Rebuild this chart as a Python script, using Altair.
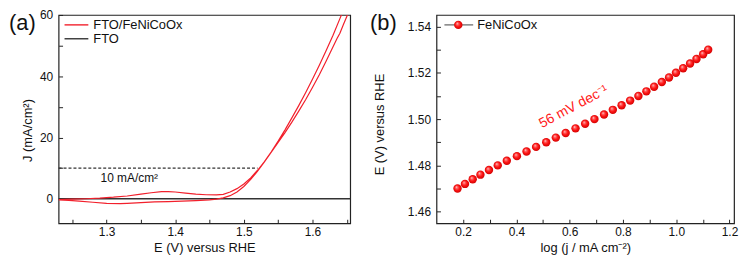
import altair as alt
import pandas as pd

FONT = "Liberation Sans"

# ---------------- panel (a): cyclic voltammogram ----------------
cv_fwd_E = [1.230, 1.250, 1.270, 1.290, 1.310, 1.330, 1.350, 1.365, 1.380, 1.390,
            1.400, 1.415, 1.430, 1.445, 1.460, 1.470, 1.480, 1.490, 1.500, 1.510,
            1.520, 1.530, 1.540, 1.550, 1.560, 1.570, 1.580, 1.590, 1.600, 1.610,
            1.620, 1.630, 1.640, 1.646]
cv_fwd_J = [-0.3, -0.15, 0.0, 0.2, 0.5, 0.9, 1.5, 1.95, 2.3, 2.35,
            2.2, 1.85, 1.5, 1.3, 1.25, 1.45, 2.2, 3.3, 4.8, 6.8,
            9.3, 12.1, 15.3, 18.8, 22.5, 26.4, 30.4, 34.6, 39.0, 43.6,
            48.4, 53.4, 58.8, 62.0]
cv_rev_E = [1.656, 1.651, 1.645, 1.640, 1.636, 1.630, 1.620, 1.610, 1.600, 1.590,
            1.580, 1.570, 1.560, 1.550, 1.540, 1.530, 1.520, 1.510, 1.500, 1.490,
            1.480, 1.470, 1.460, 1.450, 1.430, 1.410, 1.390, 1.370, 1.350, 1.330,
            1.320, 1.300, 1.280, 1.260, 1.245, 1.230]
cv_rev_J = [62.0, 60.0, 56.8, 54.0, 52.4, 49.6, 45.0, 40.5, 36.3, 32.3,
            28.6, 25.0, 21.6, 18.4, 15.2, 12.0, 9.0, 6.3, 4.0, 2.2,
            1.0, 0.3, -0.1, -0.35, -0.6, -0.8, -0.95, -1.05, -1.25, -1.5,
            -1.6, -1.5, -1.15, -0.8, -0.55, -0.35]
fto_E = [1.23, 1.655]
fto_J = [0.0, 0.0]
a_series = ["FTO/FeNiCoOx", "FTO"]
a_colors = ["#f2202c", "#333333"]
a_x_domain = [1.23, 1.655]
a_y_domain = [-8, 60]
a_x_labels = [1.3, 1.4, 1.5, 1.6]
a_x_ticks = [1.25, 1.3, 1.35, 1.4, 1.45, 1.5, 1.55, 1.6, 1.65]
a_y_labels = [0, 20, 40, 60]
a_y_ticks = [0, 10, 20, 30, 40, 50, 60]
ref_E_start = [1.23]
ref_E_end = [1.52]
ref_J = [10.0]
ref_text = ["10 mA/cm²"]
ref_text_E = [1.333]
ref_text_J = [6.8]

# ---------------- panel (b): Tafel plot ----------------
tafel_logj = [0.179, 0.207, 0.236, 0.265, 0.297, 0.330, 0.364, 0.402, 0.438, 0.474,
              0.512, 0.548, 0.585, 0.622, 0.658, 0.693, 0.729, 0.762, 0.795, 0.827,
              0.858, 0.888, 0.917, 0.946, 0.973, 0.999, 1.026, 1.052, 1.076, 1.101,
              1.120]
tafel_E = [1.470, 1.472, 1.474, 1.476, 1.478, 1.480, 1.482, 1.484, 1.486, 1.488,
           1.490, 1.492, 1.494, 1.496, 1.498, 1.500, 1.502, 1.504, 1.506, 1.508,
           1.510, 1.512, 1.514, 1.516, 1.518, 1.520, 1.522, 1.524, 1.526, 1.528,
           1.530]
b_series = ["FeNiCoOx"]
b_x_domain = [0.1, 1.217]
b_y_domain = [1.455, 1.545]
b_x_labels = [0.2, 0.4, 0.6, 0.8, 1.0, 1.2]
b_x_ticks = [0.2, 0.3, 0.4, 0.5, 0.6, 0.7, 0.8, 0.9, 1.0, 1.1, 1.2]
b_y_labels = [1.46, 1.48, 1.50, 1.52, 1.54]
b_y_ticks = [1.46, 1.47, 1.48, 1.49, 1.50, 1.51, 1.52, 1.53, 1.54]
slope_text = ["56 mV dec⁻¹"]
slope_x = [0.615]
slope_y = [1.5053]

W_A, W_B, H = 294, 300, 210

cv_df = pd.DataFrame({"E": cv_fwd_E + cv_rev_E, "J": cv_fwd_J + cv_rev_J})
cv_df["i"] = range(len(cv_df))
fto_df = pd.DataFrame({"E": fto_E, "J": fto_J})
ref_df = pd.DataFrame({"E": ref_E_start, "E2": ref_E_end, "J": ref_J})
reft_df = pd.DataFrame({"E": ref_text_E, "J": ref_text_J, "t": ref_text})
tafel_df = pd.DataFrame({"x": tafel_logj, "E": tafel_E})
slope_df = pd.DataFrame({"x": slope_x, "E": slope_y, "t": slope_text})


def label_x(values, fmt, title):
    return alt.Axis(orient="bottom", values=values, format=fmt, ticks=False,
                    labelPadding=3, labelFontSize=12, labelFlush=False,
                    title=title, titleFontSize=13, titleFontWeight="normal",
                    titleY=24, titleBaseline="middle", domain=False, grid=False)


def label_y(values, fmt, title, tx, ty):
    return alt.Axis(orient="left", values=values, format=fmt, ticks=False,
                    labelPadding=6, labelFontSize=12, labelFlush=False,
                    title=title, titleFontSize=13, titleFontWeight="normal",
                    titleX=tx, titleY=ty, titleAngle=270, titleAlign="center",
                    titleBaseline="middle", domain=False, grid=False)


def tick_axis(orient, values):
    return alt.Axis(orient=orient, values=values, labels=False, ticks=True,
                    tickSize=4, offset=-4, tickColor="#222", tickWidth=1,
                    title="", domain=False, grid=False)


# ---------------- build panel (a) ----------------
xs_a = alt.Scale(domain=a_x_domain, nice=False, zero=False)
ys_a = alt.Scale(domain=a_y_domain, nice=False, zero=False)

a_fto = alt.Chart(fto_df).mark_line(color=a_colors[1], strokeWidth=1.3).encode(
    x=alt.X("E:Q", scale=xs_a, axis=label_x(a_x_labels, ".1f", "E (V) versus RHE")),
    y=alt.Y("J:Q", scale=ys_a, axis=label_y(a_y_labels, "d", "J (mA/cm²)", -31, 116)),
)
a_ticks = alt.Chart(fto_df).mark_line(strokeOpacity=0).encode(
    x=alt.X("E:Q", scale=xs_a, axis=tick_axis("bottom", a_x_ticks)),
    y=alt.Y("J:Q", scale=ys_a, axis=tick_axis("left", a_y_ticks)),
)
a_cv = alt.Chart(cv_df).mark_line(color=a_colors[0], strokeWidth=1.2, clip=True).encode(
    x=alt.X("E:Q", scale=xs_a, axis=None),
    y=alt.Y("J:Q", scale=ys_a, axis=None),
    order="i:Q",
)
a_ref = alt.Chart(ref_df).mark_rule(color="#333", strokeWidth=1.3, strokeDash=[3, 2]).encode(
    x=alt.X("E:Q", scale=xs_a, axis=None),
    x2="E2:Q",
    y=alt.Y("J:Q", scale=ys_a, axis=None),
)
a_reft = alt.Chart(reft_df).mark_text(font=FONT, fontSize=12, color="#111").encode(
    x=alt.X("E:Q", scale=xs_a, axis=None),
    y=alt.Y("J:Q", scale=ys_a, axis=None),
    text="t:N",
)
a_layers = [a_fto, a_ticks, a_cv, a_ref, a_reft]
for k, (name, col) in enumerate(zip(a_series, a_colors)):
    one = pd.DataFrame({"t": [name]})
    yy = 10 + 14 * k
    a_layers.append(alt.Chart(one).mark_rule(color=col, strokeWidth=1.4).encode(
        x=alt.value(6), x2=alt.value(30), y=alt.value(yy)))
    a_layers.append(alt.Chart(one).mark_text(font=FONT, fontSize=13, align="left",
                                             baseline="middle", color="#111").encode(
        x=alt.value(35), y=alt.value(yy), text="t:N"))
a_layers.append(alt.Chart(pd.DataFrame({"t": ["(a)"]})).mark_text(
    font=FONT, fontSize=22, align="left", baseline="middle", color="#111").encode(
    x=alt.value(-50), y=alt.value(8), text="t:N"))

panel_a = alt.layer(*a_layers).resolve_axis(x="independent", y="independent").properties(
    width=W_A, height=H)

# ---------------- build panel (b) ----------------
xs_b = alt.Scale(domain=b_x_domain, nice=False, zero=False)
ys_b = alt.Scale(domain=b_y_domain, nice=False, zero=False)

sphere = alt.RadialGradient(
    gradient="radial", x1=0.36, y1=0.32, r1=0.0, x2=0.5, y2=0.5, r2=0.55,
    stops=[alt.GradientStop(color="#fff0f0", offset=0.0),
           alt.GradientStop(color="#ff6a6a", offset=0.22),
           alt.GradientStop(color="#ff1414", offset=0.55),
           alt.GradientStop(color="#c80000", offset=1.0)])

b_pts = alt.Chart(tafel_df).mark_circle(fill=sphere, size=72, opacity=1).encode(
    x=alt.X("x:Q", scale=xs_b, axis=label_x(b_x_labels, ".1f", "log (j / mA cm⁻²)")),
    y=alt.Y("E:Q", scale=ys_b, axis=label_y(b_y_labels, ".2f", "E (V) versus RHE", -57, 110)),
)
b_ticks = alt.Chart(tafel_df).mark_line(strokeOpacity=0).encode(
    x=alt.X("x:Q", scale=xs_b, axis=tick_axis("bottom", b_x_ticks)),
    y=alt.Y("E:Q", scale=ys_b, axis=tick_axis("left", b_y_ticks)),
)
b_slope = alt.Chart(slope_df).mark_text(font=FONT, fontSize=14, color="#ff2020", angle=332).encode(
    x=alt.X("x:Q", scale=xs_b, axis=None),
    y=alt.Y("E:Q", scale=ys_b, axis=None),
    text="t:N",
)
one_b = pd.DataFrame({"t": b_series})
b_leg_line = alt.Chart(one_b).mark_rule(color="#777", strokeWidth=1.4).encode(
    x=alt.value(8), x2=alt.value(37), y=alt.value(10))
b_leg_pt = alt.Chart(one_b).mark_circle(fill=sphere, size=72, opacity=1).encode(
    x=alt.value(22), y=alt.value(10))
b_leg_txt = alt.Chart(one_b).mark_text(font=FONT, fontSize=13, align="left",
                                        baseline="middle", color="#111").encode(
    x=alt.value(41), y=alt.value(10), text="t:N")
b_lab = alt.Chart(pd.DataFrame({"t": ["(b)"]})).mark_text(
    font=FONT, fontSize=22, align="left", baseline="middle", color="#111").encode(
    x=alt.value(-67), y=alt.value(8), text="t:N")

panel_b = alt.layer(b_pts, b_ticks, b_slope, b_leg_line, b_leg_pt, b_leg_txt, b_lab).resolve_axis(
    x="independent", y="independent").properties(width=W_B, height=H)

chart = alt.hconcat(panel_a, panel_b, spacing=87, bounds="flush").properties(
    padding={"left": 0, "top": -1, "right": 0, "bottom": 0},
    background="white",
).configure_view(stroke="#222", strokeWidth=1.2).configure_axis(
    labelFont=FONT, titleFont=FONT, labelColor="#111", titleColor="#111",
).configure_text(font=FONT)

chart.save("out.html", embed_options={"renderer": "svg", "actions": False})
